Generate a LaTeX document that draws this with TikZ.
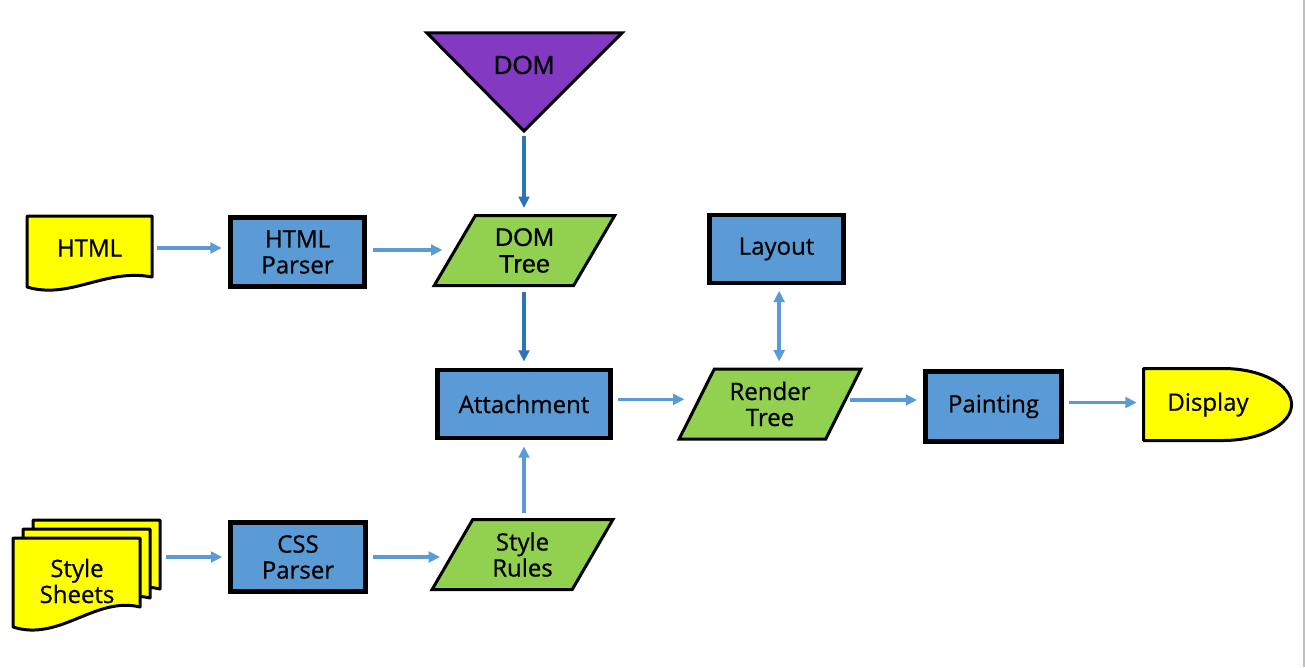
\documentclass[tikz,border=0pt]{standalone}
\usepackage{fontspec}
\setmainfont{Open Sans}[RawFeature={embolden=0.7}]
\newfontfamily\domfont{Liberation Sans}[RawFeature={embolden=0.5}]
\usepackage{tikz}
\usetikzlibrary{arrows.meta}
\usetikzlibrary{shapes.geometric}
\definecolor{procblue}{HTML}{5B9BD5}
\definecolor{datagreen}{HTML}{92D050}
\definecolor{docyellow}{HTML}{FFFF00}
\definecolor{dompurple}{HTML}{8439C2}
\definecolor{arrlight}{HTML}{5B9BD5}
\definecolor{arrdark}{HTML}{2E75B6}

\begin{document}
\begin{tikzpicture}[x=0.75pt,y=-0.75pt,
    every node/.style={font=\fontsize{18}{19.5}\selectfont, align=center},
    proc/.style={rectangle, draw, fill=procblue, line width=3.6pt,
        minimum width=101pt, minimum height=52pt},
    data/.style={trapezium, trapezium left angle=62, trapezium right angle=118,
        trapezium stretches=true, draw, fill=datagreen, line width=2.25pt,
        minimum width=136.5pt, minimum height=52.5pt},
    docline/.style={draw, fill=docyellow, line width=2.25pt, line join=round},
    ghost/.style={draw=none, inner sep=0pt},
    arr/.style={draw=arrlight, line width=2.6pt,
        -{Triangle[length=8.5pt,width=8pt]}, shorten >=4.5pt, shorten <=4pt},
    arrd/.style={arr, draw=arrdark},
    totrap/.style={shorten >=8pt}]

    \fill[white] (0,0) rectangle (1305,667);
    \useasboundingbox (0,0) rectangle (1305,667);
    \draw[gray!50, line width=1pt] (1304,0) -- (1304,667);

    % document shapes
    \draw[docline] (27,216) -- (152,216) -- (152,277)
        .. controls (105,268) and (70,300) .. (27,287) -- cycle;
    \foreach \dx/\dy in {20/-18, 10/-9, 0/0} {
        \begin{scope}[shift={(\dx,\dy)}]
            \draw[docline] (13,538) -- (140,538) -- (140,607)
                .. controls (95,596) and (60,642) .. (13,627) -- cycle;
        \end{scope}
    }
    \draw[docline] (1143.5,368.5) -- (1223,368.5)
        arc[start angle=90, end angle=-90, x radius=51.4pt, y radius=27pt]
        -- (1143.5,440.5) -- cycle;

    % DOM triangle
    \coordinate (domtip) at (524,131);
    \draw[fill=dompurple, line width=2.25pt, line join=miter] (427,33) -- (622,33) -- (domtip) -- cycle;
    \node[font=\fontsize{19.5}{21}\domfont] (dom) at (524,65) {DOM};

    % nodes
    \node[ghost, minimum width=93pt, minimum height=48pt] (html) at (89.5,248) {HTML};
    \node[ghost, minimum width=95pt, minimum height=67.5pt] (sheets) at (77,581) {Style\\Sheets};
    \node[ghost, minimum width=97.5pt, minimum height=54pt] (disp) at (1208,404.5) {Display};

    \node[proc] (hparser) at (297.5,252) {HTML\\Parser};
    \node[proc] (cssp) at (298,557) {CSS\\Parser};
    \node[proc, minimum width=130pt, minimum height=51pt] (att) at (524,404) {Attachment};
    \node[proc, minimum height=51pt] (layout) at (776.5,249) {Layout};
    \node[proc, minimum width=102pt, minimum height=53pt] (paint) at (993.5,406.5) {Painting};

    \node[data, font=\fontsize{19}{20}\domfont] (dtree) at (524.5,250.5) {DOM\\Tree};
    \node[data] (rtree) at (770,404) {Render\\Tree};
    \node[data] (srules) at (522.5,554.5) {Style\\Rules};

    % connectors
    \draw[arrd] (domtip) -- (domtip |- dtree.north);
    \draw[arr] (html.east) -- (html.east -| hparser.west);
    \draw[arr, totrap] ([yshift=1.5pt]hparser.east) -- ([yshift=1.5pt]hparser.east -| dtree.west);
    \draw[arrd] (att.north |- dtree.south) -- (att.north);
    \draw[arr] ([xshift=15pt]sheets.east |- cssp.west) -- (cssp.west);
    \draw[arr, totrap] (cssp.east) -- (cssp.east -| srules.west);
    \draw[arr] (att.south |- srules.north) -- (att.south);
    \draw[arr, totrap] ([yshift=3.5pt]att.east) -- ([yshift=3.5pt]att.east -| rtree.west);
    \draw[arr, {Triangle[length=8.5pt,width=8pt]}-{Triangle[length=8.5pt,width=8pt]}]
        ([xshift=2pt]layout.south) -- ([xshift=2pt]layout.south |- rtree.north);
    \draw[arr] ([yshift=3pt]rtree.east) -- ([yshift=3pt]rtree.east -| paint.west);
    \draw[arr] ([yshift=3pt]paint.east) -- ([yshift=3pt]paint.east -| disp.west);
\end{tikzpicture}
\end{document}
